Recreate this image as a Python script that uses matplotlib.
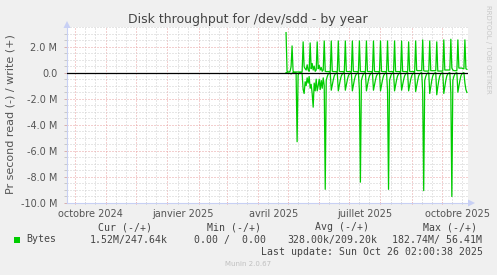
import matplotlib
matplotlib.use("Agg")
import matplotlib.pyplot as plt
import matplotlib.dates as mdates
from matplotlib.ticker import MultipleLocator, FuncFormatter, NullFormatter
from matplotlib.patches import Rectangle, Polygon
import numpy as np
import pandas as pd

plt.rcParams["lines.scale_dashes"] = False

# ---------------- data ----------------
title = "Disk throughput for /dev/sdd - by year"
ylabel = "Pr second read (-) / write (+)"
start_date = "2025-04-29"          # first daily sample
x_start, x_end = "2024-09-23", "2025-10-27 02:00"

# write (+) in M bytes/s, one value per day
write_mbps = [
    3.07, 0.10, 0.05, 0.05, 0.10, 0.45, 2.05,
    0.10, 0.05, 0.05, 0.05, 0.05, 0.05, 0.05,
    0.05, 0.05, 0.05, 2.36, 0.45, 0.30, 0.20,
    0.60, 0.20, 0.10, 2.28, 0.30, 0.70, 0.20,
    0.50, 0.10, 0.20, 2.36, 0.30, 0.55, 0.20,
    0.40, 0.10, 0.20, 2.43, 0.10, 0.08, 0.08,
    0.08, 0.08, 0.08, 2.43, 0.10, 0.08, 0.08,
    0.08, 0.08, 0.08, 2.43, 0.10, 0.08, 0.08,
    0.08, 0.08, 0.08, 2.43, 0.10, 0.08, 0.08,
    0.08, 0.08, 0.08, 2.43, 0.10, 0.08, 0.08,
    0.08, 0.08, 0.08, 2.43, 0.10, 0.08, 0.08,
    0.08, 0.08, 0.08, 2.43, 0.10, 0.08, 0.08,
    0.08, 0.08, 0.08, 2.43, 0.10, 0.08, 0.08,
    0.08, 0.08, 0.08, 2.43, 0.10, 0.08, 0.08,
    0.08, 0.08, 0.08, 2.43, 0.10, 0.08, 0.08,
    0.08, 0.08, 0.08, 2.43, 0.10, 0.08, 0.08,
    0.08, 0.08, 0.08, 2.43, 0.10, 0.08, 0.08,
    0.08, 0.08, 0.08, 2.36, 0.10, 0.08, 0.08,
    0.08, 0.08, 0.08, 2.43, 0.18, 0.15, 0.15,
    0.15, 0.15, 0.15, 2.51, 0.15, 0.12, 0.12,
    0.12, 0.12, 0.12, 2.43, 0.15, 0.15, 0.15,
    0.15, 0.15, 0.15, 2.36, 0.12, 0.12, 0.12,
    0.12, 0.12, 0.12, 2.51, 0.20, 0.20, 0.20,
    0.20, 0.20, 0.20, 2.56, 0.35, 0.20, 0.15,
    0.15, 0.15, 0.15, 2.51, 0.35, 0.35, 0.35,
    0.35, 0.30, 0.30, 2.51, 0.30, 0.25,
]

# read (-) in M bytes/s, one value per day (drawn negative)
read_mbps = [
    0.00, 0.00, -0.05, -0.05, -0.05, -0.10, -0.05,
    0.00, 0.00, 0.00, 0.00, -5.30, -0.20, 0.00,
    0.00, 0.00, -0.05, -1.30, -1.60, -0.70, -1.00,
    -0.40, -0.80, -0.30, -1.20, -0.90, -1.60, -2.65,
    -0.80, -1.40, -0.50, -1.40, -1.00, -0.50, -1.30,
    -0.60, -1.20, -0.40, -1.00, -8.95, -0.60, -0.30,
    -0.10, -0.03, 0.00, -1.35, -0.95, -0.55, -0.25,
    -0.10, -0.03, 0.00, -1.40, -0.95, -0.55, -0.25,
    -0.10, -0.03, 0.00, -1.35, -0.95, -0.55, -0.25,
    -0.10, -0.03, 0.00, -1.40, -0.95, -0.55, -0.25,
    -0.10, -0.03, 0.00, -1.35, -8.40, -0.60, -0.30,
    -0.10, -0.03, 0.00, -1.40, -0.95, -0.55, -0.25,
    -0.10, -0.03, 0.00, -1.35, -0.95, -0.55, -0.25,
    -0.10, -0.03, 0.00, -1.40, -0.95, -0.55, -0.25,
    -0.10, -0.03, 0.00, -1.35, -8.95, -0.60, -0.30,
    -0.10, -0.03, 0.00, -1.40, -0.95, -0.55, -0.25,
    -0.10, -0.03, 0.00, -1.35, -0.95, -0.55, -0.25,
    -0.10, -0.03, 0.00, -1.40, -0.95, -0.55, -0.25,
    -0.10, -0.03, 0.00, -1.45, -1.00, -0.60, -0.25,
    -0.10, -0.03, 0.00, -1.50, -9.05, -0.60, -0.30,
    -0.10, -0.03, 0.00, -1.60, -1.10, -0.60, -0.25,
    -0.10, -0.03, 0.00, -1.70, -1.10, -0.60, -0.25,
    -0.10, -0.03, 0.00, -1.60, -1.10, -0.60, -0.25,
    -0.10, -0.03, 0.00, -1.55, -9.50, -0.60, -0.30,
    -0.10, -0.03, 0.00, -1.50, -1.05, -0.60, -0.25,
    -0.10, -0.03, 0.00, -0.80, -1.30, -1.52,
]

label_dates = ["2024-10-16 12:00", "2025-01-16 12:00", "2025-04-16 12:00",
               "2025-07-16 12:00", "2025-10-16 12:00"]
tick_labels = ["octobre 2024", "janvier 2025", "avril 2025",
               "juillet 2025", "octobre 2025"]

legend_name = "Bytes"
legend_headers = ["Cur (-/+)", "Min (-/+)", "Avg (-/+)", "Max (-/+)"]
legend_values = ["1.52M/247.64k", "0.00 /  0.00", "328.00k/209.20k", "182.74M/ 56.41M"]
last_update = "Last update: Sun Oct 26 02:00:38 2025"
footer = "Munin 2.0.67"
side_text = "RRDTOOL / TOBI OETIKER"

# ---------------- layout ----------------
W, H = 497, 275
fig = plt.figure(figsize=(W / 100, H / 100), dpi=100, facecolor="#f0f0f0")


def fx(px):
    return px / W


def fy(py):
    return 1 - py / H


ax = fig.add_axes([fx(67), fy(203), fx(468) - fx(67), fy(27) - fy(203)])
ax.set_facecolor("white")

dates = pd.date_range(start_date, periods=len(write_mbps), freq="D")
green = "#00cc00"
ax.plot(dates, write_mbps, color=green, lw=0.9, zorder=3)
ax.plot(dates, read_mbps, color=green, lw=0.9, zorder=3)
ax.axhline(0, color="black", lw=0.9, zorder=4)

ax.set_xlim(pd.Timestamp(x_start), pd.Timestamp(x_end))
ax.set_ylim(-10, 3.5)

dot = (0, (0.72, 1.44))
minor_c = "#cfcfcf"
major_c = "#e8a0a0"

ax.yaxis.set_major_locator(MultipleLocator(2))
ax.yaxis.set_minor_locator(MultipleLocator(0.5))
ax.yaxis.set_major_formatter(FuncFormatter(lambda v, p: "0.0" if abs(v) < 1e-9 else f"{v:.1f} M"))
ax.xaxis.set_major_locator(mdates.MonthLocator())
ax.xaxis.set_major_formatter(NullFormatter())
ax.xaxis.set_minor_locator(mdates.DayLocator(bymonthday=[11, 21]))

ax.grid(True, which="minor", color=minor_c, lw=0.72, ls=dot, zorder=1)
ax.grid(True, which="major", color=major_c, lw=0.72, ls=dot, zorder=2)
ax.set_axisbelow(True)

ax.tick_params(axis="y", which="both", length=2, width=0.7, color="#d8b0b0",
               labelsize=7, labelcolor="#555555", pad=5)
ax.tick_params(axis="y", which="minor", color="#c8c8c8")
ax.tick_params(axis="x", which="major", length=2, width=0.7, color="#e8a0a0", direction="inout")
ax.tick_params(axis="x", which="minor", length=2, width=0.7, color="#c8c8c8", direction="inout")

for s in ("top", "right"):
    ax.spines[s].set_visible(False)
axis_c = "#c8d0f4"
for s in ("left", "bottom"):
    ax.spines[s].set_color(axis_c)
    ax.spines[s].set_linewidth(0.8)

sec = ax.secondary_xaxis("bottom")
sec.set_xticks(mdates.date2num(pd.to_datetime(label_dates)))
sec.set_xticklabels(tick_labels)
sec.tick_params(length=0, labelsize=7, labelcolor="#555555", pad=4)
sec.spines["bottom"].set_visible(False)

# axis arrows
fig.add_artist(Polygon([[fx(67), fy(21)], [fx(63.5), fy(28)], [fx(70.5), fy(28)]],
                       closed=True, transform=fig.transFigure, color=axis_c, lw=0))
fig.add_artist(Polygon([[fx(475), fy(203)], [fx(468), fy(199.5)], [fx(468), fy(206.5)]],
                       closed=True, transform=fig.transFigure, color=axis_c, lw=0))

# texts
fig.text(fx(248), fy(19.5), title, ha="center", va="center", fontsize=9, color="#444444")
fig.text(fx(10.5), fy(114), ylabel, ha="center", va="center", rotation=90,
         fontsize=8, color="#555555")
fig.text(fx(488), fy(5), side_text, ha="center", va="top", rotation=270,
         fontsize=5, color="#c8c8c8")

mono = dict(family="DejaVu Sans Mono", fontsize=7.1, color="#444444", va="center")
header_x = [98.3, 206.7, 315, 422.7]
for x, t in zip(header_x, legend_headers):
    fig.text(fx(x), fy(227.3), t, ha="left", **mono)
fig.add_artist(Rectangle((fx(14), fy(242.5)), 5.5 / W, 5.8 / H,
                         transform=fig.transFigure, color=green, lw=0))
fig.text(fx(26.7), fy(239.5), legend_name, ha="left", **mono)
value_x = [89.3, 194.3, 287.3, 392.3]
for x, t in zip(value_x, legend_values):
    fig.text(fx(x), fy(239.5), t, ha="left", **mono)
fig.text(fx(482.7), fy(251.7), last_update, ha="right", **mono)
fig.text(fx(248), fy(263.5), footer, ha="center", va="center", fontsize=5, color="#c0c0c0")

fig.savefig("out.png", dpi=100, facecolor=fig.get_facecolor())
